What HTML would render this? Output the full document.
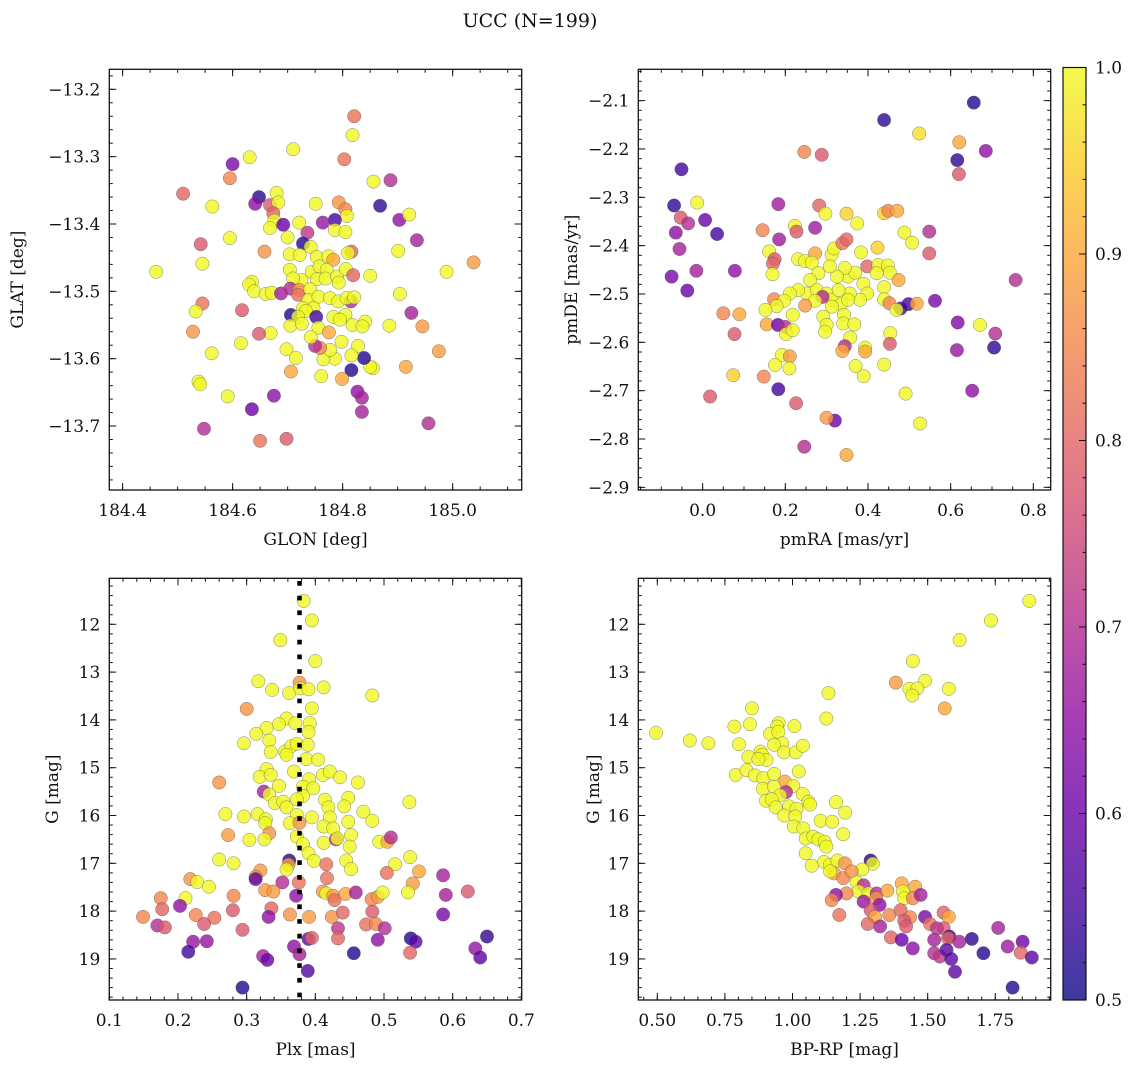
<!DOCTYPE html>
<html><head><meta charset="utf-8"><title>UCC (N=199)</title>
<style>
html,body{margin:0;padding:0;background:#fff;}
svg{display:block;font-family:"DejaVu Serif","Liberation Serif",serif;}
</style></head>
<body>
<svg id="fig" width="1136" height="1067" viewBox="0 0 1136 1067" xmlns="http://www.w3.org/2000/svg">
<text x="530" y="27" text-anchor="middle" font-size="19" fill="#111">UCC (N=199)</text>
</svg>
<script>
// ---------- Panel 1: GLON vs GLAT ----------
const glon1=[184.821,184.818,184.710,184.631,184.803,184.600,184.595,184.856,184.887,184.510,184.563,184.648,184.641,184.668,184.680,184.683,184.674,184.676,184.668,184.692,184.721,184.751,184.793,184.805,184.808,184.786,184.764,184.786,184.805,184.868,184.903,184.921,184.935,184.901,184.989,185.038,184.736,184.700,184.595,184.542,184.545,184.461,184.658,184.728,184.816,184.810,184.704,184.722,184.742,184.753,184.774,184.783,184.704,184.725,184.744,184.758,184.771,184.753,184.769,184.790,184.806,184.819,184.850,184.793,184.710,184.635,184.630,184.639,184.660,184.671,184.688,184.705,184.721,184.741,184.719,184.815,184.738,184.756,184.777,184.792,184.807,184.821,184.728,184.747,184.733,184.706,184.719,184.752,184.783,184.805,184.795,184.705,184.726,184.756,184.775,184.818,184.841,184.836,184.885,184.904,184.925,184.945,184.975,184.915,184.855,184.850,184.839,184.816,184.799,184.827,184.835,184.835,184.798,184.828,184.816,184.786,184.765,184.777,184.759,184.750,184.742,184.698,184.715,184.706,184.761,184.669,184.648,184.615,184.617,184.545,184.533,184.528,184.562,184.538,184.541,184.591,184.675,184.635,184.548,184.650,184.698,184.956];
const glat1=[-13.240,-13.268,-13.289,-13.301,-13.304,-13.311,-13.332,-13.337,-13.335,-13.355,-13.374,-13.360,-13.370,-13.372,-13.354,-13.368,-13.384,-13.395,-13.406,-13.401,-13.398,-13.370,-13.368,-13.378,-13.388,-13.394,-13.398,-13.409,-13.412,-13.373,-13.394,-13.386,-13.424,-13.440,-13.471,-13.457,-13.413,-13.420,-13.421,-13.430,-13.459,-13.471,-13.441,-13.429,-13.441,-13.443,-13.445,-13.446,-13.434,-13.449,-13.448,-13.453,-13.468,-13.483,-13.471,-13.463,-13.468,-13.482,-13.481,-13.478,-13.467,-13.476,-13.477,-13.487,-13.481,-13.486,-13.490,-13.500,-13.504,-13.502,-13.503,-13.496,-13.498,-13.497,-13.505,-13.515,-13.513,-13.508,-13.510,-13.515,-13.510,-13.509,-13.525,-13.525,-13.529,-13.535,-13.538,-13.538,-13.538,-13.535,-13.542,-13.551,-13.548,-13.554,-13.561,-13.550,-13.545,-13.552,-13.551,-13.504,-13.532,-13.552,-13.589,-13.612,-13.614,-13.612,-13.599,-13.617,-13.630,-13.649,-13.658,-13.679,-13.575,-13.581,-13.595,-13.600,-13.601,-13.587,-13.584,-13.581,-13.568,-13.586,-13.599,-13.619,-13.626,-13.562,-13.563,-13.577,-13.528,-13.518,-13.530,-13.560,-13.592,-13.634,-13.638,-13.656,-13.655,-13.675,-13.704,-13.722,-13.719,-13.696];
const prob1=[0.82,1,1,1,0.82,0.62,0.85,1,0.7,0.8,1,0.52,0.65,0.78,1,1,0.8,1,1,0.6,1,1,0.87,0.85,1,0.55,0.66,1,1,0.53,0.65,1,0.68,1,1,0.88,0.72,1,1,0.78,1,1,0.87,0.52,0.8,1,1,1,1,1,1,0.9,1,1,1,1,1,1,1,1,1,0.8,1,1,1,1,1,1,1,1,0.68,0.7,0.87,1,0.82,0.7,1,1,1,1,1,1,1,1,1,0.52,1,0.55,1,1,1,1,1,1,0.9,1,1,1,1,1,0.68,0.88,0.88,0.9,1,1,0.52,0.52,0.9,0.65,0.68,0.68,1,1,1,1,1,1,0.85,0.7,1,1,1,0.9,1,1,0.78,1,0.78,0.82,1,0.87,1,1,1,1,0.65,0.6,0.7,0.82,0.78,0.7];

// ---------- Panel 2: pmRA vs pmDE ----------
const pmra2=[0.656,0.439,0.524,0.621,0.616,0.685,0.620,0.246,0.288,-0.051,-0.069,-0.013,-0.053,-0.035,0.006,0.035,-0.065,-0.056,-0.015,-0.075,-0.037,0.078,0.183,0.185,0.272,0.282,0.297,0.348,0.374,0.439,0.449,0.471,0.488,0.507,0.548,0.548,0.757,0.562,0.617,0.671,0.708,0.705,0.615,0.652,0.491,0.526,0.348,0.246,0.320,0.300,0.226,0.183,0.148,0.074,0.018,0.050,0.089,0.077,0.145,0.223,0.227,0.161,0.174,0.170,0.169,0.231,0.248,0.272,0.264,0.312,0.318,0.338,0.348,0.383,0.423,0.398,0.425,0.448,0.453,0.474,0.439,0.439,0.452,0.479,0.498,0.518,0.469,0.421,0.389,0.398,0.381,0.356,0.352,0.369,0.344,0.325,0.308,0.280,0.260,0.252,0.276,0.300,0.313,0.329,0.335,0.352,0.313,0.290,0.272,0.231,0.211,0.173,0.197,0.179,0.248,0.152,0.218,0.155,0.182,0.200,0.202,0.218,0.292,0.300,0.296,0.342,0.340,0.367,0.357,0.344,0.338,0.393,0.393,0.454,0.453,0.439,0.370,0.390,0.192,0.211,0.175,0.210];
const pmde2=[-2.104,-2.140,-2.168,-2.186,-2.223,-2.204,-2.252,-2.206,-2.212,-2.242,-2.317,-2.311,-2.342,-2.354,-2.347,-2.376,-2.373,-2.407,-2.452,-2.464,-2.493,-2.452,-2.314,-2.387,-2.363,-2.317,-2.334,-2.334,-2.354,-2.333,-2.328,-2.328,-2.373,-2.394,-2.371,-2.416,-2.471,-2.514,-2.559,-2.564,-2.582,-2.611,-2.616,-2.700,-2.706,-2.768,-2.833,-2.816,-2.762,-2.756,-2.726,-2.697,-2.671,-2.668,-2.712,-2.540,-2.542,-2.583,-2.368,-2.359,-2.371,-2.412,-2.428,-2.437,-2.459,-2.428,-2.432,-2.416,-2.435,-2.419,-2.406,-2.395,-2.387,-2.414,-2.404,-2.443,-2.440,-2.441,-2.456,-2.471,-2.486,-2.511,-2.519,-2.530,-2.521,-2.520,-2.533,-2.457,-2.479,-2.499,-2.512,-2.499,-2.464,-2.456,-2.446,-2.464,-2.443,-2.457,-2.471,-2.499,-2.492,-2.499,-2.512,-2.492,-2.521,-2.512,-2.526,-2.506,-2.514,-2.492,-2.499,-2.511,-2.514,-2.525,-2.524,-2.533,-2.543,-2.563,-2.564,-2.568,-2.583,-2.575,-2.547,-2.564,-2.578,-2.543,-2.561,-2.563,-2.590,-2.608,-2.618,-2.611,-2.619,-2.581,-2.603,-2.646,-2.649,-2.670,-2.626,-2.629,-2.647,-2.654];
const prob2=[0.52,0.53,0.97,0.9,0.53,0.65,0.78,0.85,0.78,0.55,0.53,1,0.78,0.7,0.6,0.55,0.65,0.68,0.68,0.62,0.6,0.65,0.67,0.67,0.67,0.8,1,0.95,1,0.95,0.85,0.9,1,1,0.7,0.78,0.7,0.62,0.63,1,0.7,0.53,0.66,0.65,1,1,0.9,0.7,0.6,0.88,0.78,0.55,0.85,0.95,0.78,0.85,0.9,0.78,0.85,1,0.78,1,0.78,0.8,1,1,1,0.9,1,1,1,0.82,0.8,1,0.95,0.8,1,1,1,0.9,1,1,0.85,0.55,0.55,0.9,1,1,1,1,1,1,1,1,1,1,1,1,1,1,1,1,1,1,1,1,1,0.7,1,1,1,0.85,1,1,0.88,1,1,0.9,0.6,0.7,1,1,1,1,1,1,1,1,1,0.7,0.9,1,0.9,1,0.78,1,1,1,1,0.88,1,1];

// ---------- Panel 3: Plx vs G ----------
const refPlx=0.377;
const plx3=[0.383,0.395,0.349,0.400,0.317,0.377,0.337,0.362,0.378,0.390,0.412,0.483,0.300,0.395,0.358,0.347,0.329,0.314,0.371,0.392,0.390,0.333,0.296,0.335,0.356,0.365,0.373,0.389,0.358,0.387,0.404,0.329,0.319,0.335,0.369,0.391,0.411,0.421,0.436,0.462,0.260,0.325,0.333,0.347,0.382,0.397,0.382,0.414,0.448,0.537,0.341,0.353,0.358,0.373,0.419,0.442,0.470,0.269,0.296,0.316,0.328,0.327,0.373,0.395,0.421,0.412,0.426,0.448,0.483,0.363,0.377,0.273,0.304,0.333,0.326,0.373,0.382,0.412,0.430,0.432,0.452,0.450,0.493,0.505,0.510,0.390,0.398,0.260,0.281,0.362,0.361,0.358,0.445,0.452,0.516,0.538,0.416,0.504,0.551,0.586,0.320,0.313,0.313,0.218,0.228,0.245,0.352,0.376,0.417,0.542,0.327,0.339,0.372,0.411,0.416,0.426,0.428,0.444,0.459,0.482,0.491,0.498,0.535,0.590,0.622,0.175,0.211,0.203,0.177,0.281,0.149,0.226,0.253,0.280,0.336,0.332,0.363,0.391,0.424,0.440,0.483,0.586,0.170,0.181,0.238,0.294,0.433,0.474,0.488,0.501,0.222,0.242,0.215,0.433,0.390,0.395,0.369,0.377,0.324,0.330,0.456,0.491,0.539,0.546,0.538,0.633,0.650,0.640,0.389,0.294];
const gmag3=[11.51,11.92,12.33,12.77,13.19,13.22,13.37,13.44,13.34,13.36,13.32,13.49,13.77,13.76,13.97,14.09,14.17,14.29,14.07,14.07,14.25,14.43,14.49,14.67,14.66,14.55,14.50,14.52,14.73,14.82,14.83,15.03,15.19,15.15,15.08,15.24,15.15,15.08,15.20,15.31,15.31,15.50,15.56,15.38,15.40,15.43,15.59,15.67,15.63,15.72,15.74,15.71,15.83,15.66,15.83,15.81,15.92,15.97,16.02,15.97,16.08,16.16,15.99,16.04,16.04,16.23,16.27,16.13,16.11,16.16,16.15,16.41,16.51,16.37,16.50,16.44,16.60,16.57,16.50,16.48,16.41,16.65,16.55,16.55,16.46,16.79,16.95,16.92,17.00,16.94,17.03,17.13,16.94,17.12,17.02,16.87,17.02,17.20,17.17,17.25,17.15,17.28,17.33,17.33,17.39,17.49,17.40,17.40,17.31,17.42,17.56,17.59,17.68,17.59,17.63,17.68,17.77,17.64,17.61,17.75,17.70,17.61,17.61,17.66,17.59,17.73,17.73,17.89,17.96,17.68,18.12,18.08,18.14,17.98,17.94,18.12,18.07,18.12,18.12,18.03,18.01,18.07,18.30,18.34,18.27,18.39,18.36,18.28,18.27,18.36,18.64,18.63,18.85,18.57,18.58,18.56,18.74,18.90,18.94,19.02,18.88,18.60,18.57,18.64,18.87,18.78,18.53,18.97,19.25,19.60];
const prob3=[1,1,1,1,1,0.87,1,1,1,1,1,1,0.87,1,1,1,1,1,1,1,1,1,1,1,1,1,1,1,1,1,1,1,1,1,1,1,1,1,1,1,0.87,0.68,1,1,1,1,1,1,1,1,1,1,1,1,1,1,1,1,1,1,1,1,1,1,1,1,1,1,1,1,0.87,0.88,1,0.87,1,1,1,1,0.7,1,1,1,1,0.9,0.7,1,1,1,1,0.52,0.9,1,1,1,1,1,0.82,0.82,0.9,0.68,0.88,0.87,0.58,0.87,1,1,0.7,0.82,0.82,0.88,0.88,0.88,0.65,0.88,1,0.88,0.82,0.9,0.68,0.85,0.88,1,1,0.68,0.78,0.85,1,0.65,0.8,0.85,0.85,0.85,0.82,0.78,0.8,0.65,0.87,0.88,0.87,0.8,0.78,0.62,0.7,0.78,0.78,0.78,0.72,0.82,0.85,0.7,0.66,0.66,0.55,0.8,0.58,0.8,0.65,0.68,0.68,0.6,0.52,0.65,0.52,0.58,0.8,0.66,0.53,0.58,0.57,0.52];

// ---------- Panel 4: BP-RP vs G ----------
const bprp4=[1.876,1.734,1.618,1.445,1.382,1.490,1.432,1.462,1.443,1.578,1.563,1.133,1.125,0.495,0.620,0.689,0.785,0.850,0.843,0.802,0.949,0.943,0.917,0.948,1.007,0.962,0.932,0.969,1.012,1.038,0.837,0.882,0.888,0.904,0.874,0.790,0.830,0.861,0.892,0.932,0.972,1.023,1.003,0.890,0.932,0.976,0.954,1.038,0.902,0.923,0.938,0.988,1.015,1.059,1.065,1.161,1.195,0.969,1.010,1.005,1.040,1.104,1.147,1.187,1.049,1.077,1.096,1.119,1.125,1.049,1.071,1.117,1.139,1.166,1.194,1.154,1.188,1.139,1.289,1.297,1.258,1.219,1.237,1.263,1.244,1.281,1.200,1.161,1.145,1.173,1.263,1.311,1.310,1.322,1.289,1.305,1.351,1.404,1.408,1.413,1.454,1.445,1.474,1.358,1.400,1.435,1.413,1.420,1.324,1.278,1.364,1.404,1.445,1.490,1.509,1.559,1.578,1.559,1.534,1.524,1.580,1.575,1.617,1.524,1.545,1.570,1.587,1.601,1.663,1.706,1.761,1.796,1.851,1.844,1.885,1.814];
const gmag4=[11.51,11.92,12.33,12.77,13.22,13.18,13.35,13.34,13.49,13.35,13.76,13.44,13.97,14.27,14.43,14.49,14.14,13.76,14.09,14.51,14.07,14.14,14.29,14.25,14.13,14.49,14.52,14.68,14.68,14.54,14.77,14.66,14.73,14.84,14.82,15.15,15.05,15.16,15.22,15.13,15.29,15.08,15.38,15.44,15.40,15.51,15.58,15.55,15.69,15.66,15.83,15.81,15.86,15.71,15.77,15.72,15.94,16.00,16.02,16.23,16.27,16.11,16.13,16.39,16.48,16.44,16.50,16.55,16.65,16.79,17.05,16.97,17.03,16.94,17.00,17.21,17.31,17.17,16.94,17.01,17.13,17.17,17.40,17.46,17.59,17.63,17.63,17.66,17.77,18.08,17.80,17.63,17.73,17.87,17.98,18.12,17.57,17.42,17.59,17.73,17.49,17.73,17.66,18.08,17.98,18.13,18.20,18.32,18.32,18.27,18.55,18.60,18.78,18.12,18.27,18.03,18.12,18.36,18.36,18.60,18.53,18.57,18.64,18.88,18.95,18.81,19.00,19.27,18.58,18.88,18.35,18.74,18.64,18.87,18.97,19.60];
const prob4=[1,1,1,1,0.88,1,1,1,1,1,0.9,1,1,1,1,1,1,1,1,1,1,1,1,1,1,1,1,1,1,1,1,1,1,1,1,1,1,1,1,1,0.9,1,1,1,1,0.7,1,1,1,1,1,1,1,1,1,1,1,1,1,1,1,1,1,1,1,1,1,1,1,1,1,1,1,1,0.87,0.9,0.85,1,0.52,1,1,0.87,1,0.7,1,1,0.85,0.65,0.85,0.82,0.66,0.7,0.87,0.65,0.78,0.9,0.9,0.9,1,1,0.9,0.85,0.68,0.85,0.8,0.85,0.78,0.78,0.68,0.8,0.8,0.6,0.65,0.62,0.82,0.8,0.9,0.78,0.72,0.68,0.55,0.8,0.68,0.7,0.72,0.58,0.58,0.58,0.53,0.52,0.68,0.67,0.6,0.8,0.58,0.52];

// ---------- Tick labels ----------
const xt1=[184.4,184.6,184.8,185.0], xt1Lab=["184.4","184.6","184.8","185.0"];
const yt1=[-13.2,-13.3,-13.4,-13.5,-13.6,-13.7], yt1Lab=["\u221213.2","\u221213.3","\u221213.4","\u221213.5","\u221213.6","\u221213.7"];
const xt2=[0.0,0.2,0.4,0.6,0.8], xt2Lab=["0.0","0.2","0.4","0.6","0.8"];
const yt2=[-2.1,-2.2,-2.3,-2.4,-2.5,-2.6,-2.7,-2.8,-2.9], yt2Lab=["\u22122.1","\u22122.2","\u22122.3","\u22122.4","\u22122.5","\u22122.6","\u22122.7","\u22122.8","\u22122.9"];
const xt3=[0.1,0.2,0.3,0.4,0.5,0.6,0.7], xt3Lab=["0.1","0.2","0.3","0.4","0.5","0.6","0.7"];
const ytG=[12,13,14,15,16,17,18,19], ytGLab=["12","13","14","15","16","17","18","19"];
const xt4=[0.5,0.75,1.0,1.25,1.5,1.75], xt4Lab=["0.50","0.75","1.00","1.25","1.50","1.75"];
const cbTicks=[0.5,0.6,0.7,0.8,0.9,1.0], cbLab=["0.5","0.6","0.7","0.8","0.9","1.0"];

const NS="http://www.w3.org/2000/svg";
const svg=document.getElementById('fig');
function mk(tag,attrs,parent){const e=document.createElementNS(NS,tag);for(const k in attrs)e.setAttribute(k,attrs[k]);(parent||svg).appendChild(e);return e;}

const PL=[[0,13,8,135],[0.1,65,4,157],[0.2,106,0,168],[0.3,143,13,164],[0.4,177,42,144],[0.5,204,71,120],[0.6,225,100,98],[0.7,242,132,75],[0.8,252,166,54],[0.9,252,206,37],[1.0,240,249,33]];
function plasma(t){t=Math.max(0,Math.min(1,t));for(let i=0;i<PL.length-1;i++){const a=PL[i],b=PL[i+1];if(t<=b[0]){const f=(t-a[0])/(b[0]-a[0]);return `rgb(${Math.round(a[1]+f*(b[1]-a[1]))},${Math.round(a[2]+f*(b[2]-a[2]))},${Math.round(a[3]+f*(b[3]-a[3]))})`;}}return 'rgb(240,249,33)';}
const vmin=0.5,vmax=1.0;
const FS=17;

function panel(cfg){
  const g=mk('g',{});
  
  
  const L=cfg.box[0],T=cfg.box[1],R=cfg.box[2],B=cfg.box[3];
  const sx=v=>L+(v-cfg.xd[0])/(cfg.xd[1]-cfg.xd[0])*(R-L);
  const sy=v=>T+(v-cfg.yd[0])/(cfg.yd[1]-cfg.yd[0])*(B-T);
  const pg=mk('g',{},g);
  
  
  for(let i=0;i<cfg.x.length;i++){
    const c=mk('circle',{cx:sx(cfg.x[i]).toFixed(1),cy:sy(cfg.y[i]).toFixed(1),r:6.7,fill:plasma((cfg.c[i]-vmin)/(vmax-vmin)),'fill-opacity':0.8,stroke:'#555','stroke-opacity':0.7,'stroke-width':0.5},pg);
    
    
  }
  if(cfg.extra)cfg.extra(g,sx,sy);
  const fr=mk('rect',{x:L,y:T,width:R-L,height:B-T,fill:'none',stroke:'#111','stroke-width':1.3},g);
  
  
  const tk=mk('g',{stroke:'#111','stroke-width':1},g);
  
  
  function xt(v,len){const x=sx(v);mk('line',{x1:x,x2:x,y1:B,y2:B-len},tk);mk('line',{x1:x,x2:x,y1:T,y2:T+len},tk);}
  function yt(v,len){const y=sy(v);mk('line',{x1:L,x2:L+len,y1:y,y2:y},tk);mk('line',{x1:R,x2:R-len,y1:y,y2:y},tk);}
  const xlo=Math.min(...cfg.xd),xhi=Math.max(...cfg.xd),ylo=Math.min(...cfg.yd),yhi=Math.max(...cfg.yd);
  for(let k=Math.ceil(xlo/cfg.xm-1e-6);k*cfg.xm<=xhi+1e-9;k++)xt(k*cfg.xm,3.5);
  for(let k=Math.ceil(ylo/cfg.ym-1e-6);k*cfg.ym<=yhi+1e-9;k++)yt(k*cfg.ym,3.5);
  cfg.xt.forEach(v=>xt(v,7));cfg.yt.forEach(v=>yt(v,7));
  const lg=mk('g',{'font-size':FS,fill:'#111'},g);
  cfg.xt.forEach((v,i)=>{const t=mk('text',{x:sx(v),y:B+26,'text-anchor':'middle'},lg);t.textContent=cfg.xl[i];
    
    });
  cfg.yt.forEach((v,i)=>{const t=mk('text',{x:L-9,y:sy(v)+6,'text-anchor':'end'},lg);t.textContent=cfg.yl[i];
    
    });
  const xa=mk('text',{x:(L+R)/2,y:B+55,'text-anchor':'middle','font-size':FS,fill:'#111'},g);xa.textContent=cfg.xTitle;
  
  
  const ya=mk('text',{x:0,y:0,'text-anchor':'middle','font-size':FS,fill:'#111',transform:`translate(${cfg.yTitleX},${(T+B)/2}) rotate(-90)`},g);ya.textContent=cfg.yTitle;
  
  
}

panel({name:'glon-glat-panel',box:[109.3,69.3,521.7,490],xd:[184.3758,185.1255],yd:[-13.1703,-13.795],x:glon1,y:glat1,c:prob1,xm:0.05,ym:0.02,xt:xt1,xl:xt1Lab,yt:yt1,yl:yt1Lab,xTitle:'GLON [deg]',yTitle:'GLAT [deg]',yTitleX:23});
panel({name:'pm-panel',box:[638.3,69.3,1050.7,490],xd:[-0.1556,0.842],yd:[-2.0352,-2.9055],x:pmra2,y:pmde2,c:prob2,xm:0.05,ym:0.02,xt:xt2,xl:xt2Lab,yt:yt2,yl:yt2Lab,xTitle:'pmRA [mas/yr]',yTitle:'pmDE [mas/yr]',yTitleX:577});
panel({name:'plx-g-panel',box:[109.3,578.3,521.7,1000],xd:[0.1,0.7005],yd:[11.038,19.859],x:plx3,y:gmag3,c:prob3,xm:0.02,ym:0.2,xt:xt3,xl:xt3Lab,yt:ytG,yl:ytGLab,xTitle:'Plx [mas]',yTitle:'G [mag]',yTitleX:58,
  extra:(g,sx,sy)=>{const x=sx(refPlx);const l=mk('line',{x1:x,x2:x,y1:581,y2:1000,stroke:'#000','stroke-width':4.5,'stroke-dasharray':'4.7 10'},g);
    
    }});
panel({name:'cmd-panel',box:[638.3,578.3,1050.7,1000],xd:[0.4297,1.955],yd:[11.038,19.859],x:bprp4,y:gmag4,c:prob4,xm:0.05,ym:0.2,xt:xt4,xl:xt4Lab,yt:ytG,yl:ytGLab,xTitle:'BP-RP [mag]',yTitle:'G [mag]',yTitleX:599});

// ---------- Colorbar ----------
(function(){
  const L=1063,R=1086,T=67.5,B=1000;
  const g=mk('g',{});
  
  
  const defs=mk('defs',{},g);
  const lg=mk('linearGradient',{id:'cbg',x1:0,y1:1,x2:0,y2:0},defs);
  for(let i=0;i<=20;i++){mk('stop',{offset:i/20,'stop-color':plasma(i/20)},lg);}
  const r=mk('rect',{x:L,y:T,width:R-L,height:B-T,fill:'url(#cbg)','fill-opacity':0.8},g);
  
  
  mk('rect',{x:L,y:T,width:R-L,height:B-T,fill:'none',stroke:'#111','stroke-width':1.2},g);
  const sy=v=>B-(v-vmin)/(vmax-vmin)*(B-T);
  for(let k=25;k<=50;k++){const y=sy(k*0.02);mk('line',{x1:R,x2:R-3.5,y1:y,y2:y,stroke:'#111','stroke-width':1},g);}
  cbTicks.forEach((v,i)=>{const y=sy(v);mk('line',{x1:R,x2:R-7,y1:y,y2:y,stroke:'#111','stroke-width':1},g);
    const t=mk('text',{x:R+9,y:y+6,'font-size':FS,fill:'#111'},g);t.textContent=cbLab[i];
    
    });
})();
</script>
</body></html>
